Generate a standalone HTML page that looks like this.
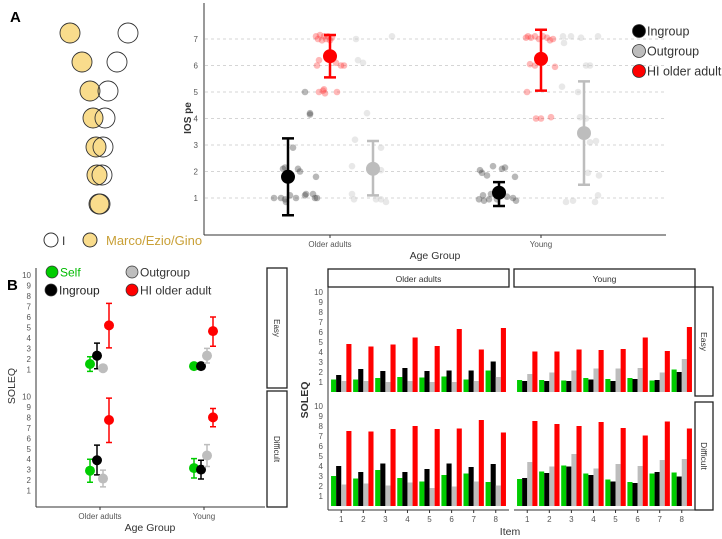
<!DOCTYPE html>
<html><head><meta charset="utf-8"><style>
html,body{margin:0;padding:0;background:#fff;}
svg{display:block;font-family:"Liberation Sans",sans-serif;}
</style></head><body>
<svg id="fig" width="722" height="539" viewBox="0 0 722 539" xmlns="http://www.w3.org/2000/svg">
<text x="10" y="22" font-size="15" font-weight="bold">A</text>
<text x="7" y="290" font-size="15" font-weight="bold">B</text>
<g id="venn"></g>
<g>
<circle cx="51" cy="240" r="7" fill="#fff" stroke="#333" stroke-width="1"/>
<text x="62" y="245" font-size="12" fill="#333">I</text>
<circle cx="90" cy="240" r="7" fill="#f9dc8c" stroke="#333" stroke-width="1"/>
<text x="106" y="245" font-size="13" fill="#c9a037">Marco/Ezio/Gino</text>
</g>
<g id="chartA"></g>
<g id="chartB1"></g>
<g id="chartB2"></g>
</svg>
<script>
// ---------- data ----------
const vennYellowX=[70,82,90,93,96,97,99];
const vennWhiteX=[128,117,108,105,103,102,100];
const vennY=[33,62,91,118,147,175,204];

const ageGroups=["Older adults","Young"];
const iosGroups=["Ingroup","HI older adult","Outgroup"];
const iosColors=["#000000","#ff0000","#bdbdbd"];
const iosMeanOlder=[1.8,6.35,2.1];
const iosLowOlder=[0.35,5.55,1.1];
const iosHighOlder=[3.25,7.15,3.15];
const iosMeanYoung=[1.2,6.25,3.45];
const iosLowYoung=[0.7,5.05,1.5];
const iosHighYoung=[1.6,7.35,5.4];
// jitter points: [jitter(px), value]
const ptsOlderIn=[[-14,1.0],[-7,1.0],[-3,0.95],[-2,0.85],[2,1.1],[8,1.0],[17,1.1],[18,1.15],[25,1.15],[27,1.0],[29,1.0],[-5,2.1],[-3,2.15],[10,2.1],[12,2.0],[28,1.8],[5,2.9],[17,5.0],[22,4.2],[22,4.15]];
const ptsOlderHI=[[-14,7.1],[-12,7.0],[-10,7.15],[-8,6.95],[-6,7.1],[-4,7.0],[-2,7.1],[0,6.95],[2,7.05],[-13,6.0],[-11,6.2],[6,6.1],[11,6.0],[14,6.0],[-11,5.0],[-7,5.05],[-5,4.95],[7,5.0],[-6,5.1]];
const ptsOlderOut=[[-17,7.0],[19,7.1],[-15,6.2],[-10,6.1],[-6,4.2],[-18,3.2],[8,2.9],[-21,2.2],[8,2.05],[-21,1.15],[-19,0.95],[3,0.95],[8,0.95],[13,0.85]];
const ptsYoungIn=[[-19,2.05],[-17,1.95],[-12,1.85],[-6,2.2],[3,2.1],[6,2.15],[16,1.8],[-20,0.95],[-16,1.1],[-15,0.9],[-10,0.95],[-8,1.15],[-2,0.95],[8,1.05],[14,1.0],[17,0.9]];
const ptsYoungHI=[[-15,7.05],[-13,7.1],[-10,7.05],[-6,7.1],[-2,7.0],[2,7.1],[6,7.05],[9,6.95],[12,7.0],[-11,6.05],[-6,6.0],[14,5.95],[-14,5.0],[-5,4.0],[0,4.0],[10,4.05]];
const ptsYoungOut=[[-21,7.1],[-13,7.1],[-3,7.05],[14,7.1],[-20,6.85],[2,6.0],[6,6.0],[-22,5.2],[-6,5.0],[-4,4.05],[2,4.0],[6,3.1],[12,3.15],[4,1.95],[15,1.85],[-18,0.85],[-11,0.9],[11,0.85],[14,1.1]];

const soleqGroups=["Self","Ingroup","Outgroup","HI older adult"];
const soleqColors=["#00cc00","#000000","#bdbdbd","#ff0000"];
const easyOlderMean=[1.5,2.3,1.1,5.2];
const easyOlderLow=[0.8,1.05,1.1,3.05];
const easyOlderHigh=[2.2,3.5,1.1,7.3];
const easyYoungMean=[1.3,1.3,2.3,4.65];
const easyYoungLow=[1.3,1.3,1.6,3.2];
const easyYoungHigh=[1.3,1.3,3.0,6.0];
const diffOlderMean=[2.9,3.9,2.15,7.75];
const diffOlderLow=[1.8,2.5,1.35,5.6];
const diffOlderHigh=[4.0,5.35,2.95,9.85];
const diffYoungMean=[3.15,3.0,4.35,8.0];
const diffYoungLow=[2.2,2.1,3.3,7.1];
const diffYoungHigh=[4.05,3.9,5.4,8.85];

const items=[1,2,3,4,5,6,7,8];
const soleqTicks=[1,2,3,4,5,6,7,8,9,10];
const iosTicks=[1,2,3,4,5,6,7];
// per-item values [self, ingroup, outgroup, HI]
const itemsEasyOlder=[[1.25,1.7,1.1,4.8],[1.25,2.3,1.1,4.55],[1.4,2.1,1.0,4.75],[1.5,2.4,1.1,5.45],[1.45,2.1,1.0,4.6],[1.55,2.15,1.0,6.3],[1.25,2.15,1.1,4.25],[2.15,3.05,1.5,6.4]];
const itemsEasyYoung=[[1.2,1.1,1.8,4.05],[1.2,1.1,1.95,4.05],[1.15,1.1,2.15,4.25],[1.4,1.25,2.35,4.2],[1.3,1.1,2.35,4.3],[1.4,1.3,2.4,5.45],[1.15,1.2,1.95,4.1],[2.25,2.0,3.3,6.5]];
const itemsDiffOlder=[[3.0,4.0,2.15,7.5],[2.75,3.4,2.25,7.45],[3.6,4.25,2.05,7.7],[2.8,3.4,2.35,8.0],[2.45,3.7,1.8,7.7],[3.1,4.25,1.95,7.75],[3.25,3.9,2.45,8.6],[2.4,4.2,2.05,7.35]];
const itemsDiffYoung=[[2.7,2.8,4.4,8.5],[3.45,3.3,3.95,8.2],[4.05,3.95,5.2,8.0],[3.25,3.1,3.75,8.4],[2.65,2.45,4.2,7.8],[2.4,2.3,4.0,7.05],[3.25,3.4,4.6,8.45],[3.35,2.95,4.7,7.75]];

// ---------- helpers ----------
const NS="http://www.w3.org/2000/svg";
function mk(parent,tag,attrs,txt){const e=document.createElementNS(NS,tag);for(const k in attrs)e.setAttribute(k,attrs[k]);if(txt!==undefined)e.textContent=txt;parent.appendChild(e);return e;}

// ---------- venn ----------
const venn=document.getElementById('venn');
for(let i=0;i<vennY.length;i++){
  const y1=mk(venn,'circle',{cx:vennYellowX[i],cy:vennY[i],r:10,fill:'#f9dc8c',stroke:'#333','stroke-width':0.9});
  
  
  const w1=mk(venn,'circle',{cx:vennWhiteX[i],cy:vennY[i],r:10,fill:'none',stroke:'#333','stroke-width':0.9});
  
  
}

// ---------- chart A ----------
(function(){
  const g=document.getElementById('chartA');
  const yA=v=>224.5-v*26.5;
  const xA=[330,541];
  const dx=[-42,0,43];
  iosTicks.forEach(t=>{
    const l=mk(g,'line',{x1:205,x2:666,y1:yA(t),y2:yA(t),stroke:'#c8c8c8','stroke-dasharray':'3,3','stroke-width':0.8});
    
    
    const tl=mk(g,'text',{x:198,y:yA(t)+3,'font-size':8,fill:'#555','text-anchor':'end'},t);
    
    
  });
  mk(g,'line',{x1:204,x2:204,y1:3,y2:235,stroke:'#333','stroke-width':1});
  mk(g,'line',{x1:204,x2:666,y1:235,y2:235,stroke:'#333','stroke-width':1});
  ageGroups.forEach((a,i)=>{
    mk(g,'line',{x1:xA[i],x2:xA[i],y1:235,y2:238,stroke:'#333'});
    const t=mk(g,'text',{x:xA[i],y:247,'font-size':8,fill:'#555','text-anchor':'middle'},a);
    
    
  });
  const xt=mk(g,'text',{x:435,y:259,'font-size':10.5,fill:'#333','text-anchor':'middle'},'Age Group');
  
  
  const yt=mk(g,'text',{x:0,y:0,'font-size':10,'font-weight':'bold',fill:'#333','text-anchor':'middle',transform:'translate(191,118) rotate(-90)'},'IOS pe');
  
  
  const ptsets=[[ptsOlderIn,ptsOlderHI,ptsOlderOut],[ptsYoungIn,ptsYoungHI,ptsYoungOut]];
  const means=[iosMeanOlder,iosMeanYoung],lows=[iosLowOlder,iosLowYoung],highs=[iosHighOlder,iosHighYoung];
  const ptCol=["#333","#ff3333","#cccccc"];
  for(let a=0;a<2;a++){
    for(let s=0;s<3;s++){
      const cx=xA[a]+dx[s];
      ptsets[a][s].forEach(p=>{
        const c=mk(g,'circle',{cx:cx+p[0],cy:yA(p[1]),r:3.3,fill:ptCol[s],'fill-opacity':s==2?0.45:0.35});
        
        
      });
    }
    for(let s=0;s<3;s++){
      const cx=xA[a]+dx[s];
      const col=iosColors[s];
      const eb=mk(g,'path',{d:`M${cx-6},${yA(highs[a][s])}H${cx+6}M${cx},${yA(highs[a][s])}V${yA(lows[a][s])}M${cx-6},${yA(lows[a][s])}H${cx+6}`,stroke:col,'stroke-width':2.5,fill:'none'});
      
      
      const m=mk(g,'circle',{cx:cx,cy:yA(means[a][s]),r:7,fill:col});
      
      
    }
  }
  const legY=[31,51,71],legLab=["Ingroup","Outgroup","HI older adult"],legCol=["#000","#bdbdbd","#ff0000"];
  legLab.forEach((l,i)=>{
    const c=mk(g,'circle',{cx:639,cy:legY[i],r:6.5,fill:legCol[i],stroke:'#333','stroke-width':0.8});
    
    
    const t=mk(g,'text',{x:647,y:legY[i]+4.5,'font-size':12.5,fill:'#333'},l);
    
    
  });
})();

// ---------- chart B1 ----------
(function(){
  const g=document.getElementById('chartB1');
  const panels=[{y0:379.7,top:268,bot:388,name:'Easy',m:[easyOlderMean,easyYoungMean],l:[easyOlderLow,easyYoungLow],h:[easyOlderHigh,easyYoungHigh]},
                {y0:501,top:391,bot:507,name:'Difficult',m:[diffOlderMean,diffYoungMean],l:[diffOlderLow,diffYoungLow],h:[diffOlderHigh,diffYoungHigh]}];
  const unit=10.45;
  const xB=[100,204],dx=[-10,-3,3,9];
  panels.forEach(p=>{
    const yB=v=>p.y0-v*unit;
    soleqTicks.forEach(t=>{
      const tl=mk(g,'text',{x:31,y:yB(t)+3,'font-size':8,fill:'#555','text-anchor':'end'},t);
      
      
    });
    mk(g,'rect',{x:267,y:p.top,width:20,height:p.bot-p.top,fill:'#fff',stroke:'#222','stroke-width':1.3});
    const st=mk(g,'text',{x:0,y:0,'font-size':8,fill:'#333','text-anchor':'middle',transform:`translate(274,${(p.top+p.bot)/2}) rotate(90)`},p.name);
    
    
    for(let a=0;a<2;a++){
      for(let s=0;s<4;s++){
        const cx=xB[a]+dx[s],col=soleqColors[s];
        const hi=p.h[a][s],lo=p.l[a][s];
        if(hi>lo){
          const eb=mk(g,'path',{d:`M${cx-3},${yB(hi)}H${cx+3}M${cx},${yB(hi)}V${yB(lo)}M${cx-3},${yB(lo)}H${cx+3}`,stroke:col,'stroke-width':1.5,fill:'none'});
          
          
        }
        const m=mk(g,'circle',{cx:cx,cy:yB(p.m[a][s]),r:5,fill:col});
        
        
      }
    }
  });
  mk(g,'line',{x1:36,x2:36,y1:268,y2:507,stroke:'#333','stroke-width':1});
  mk(g,'line',{x1:36,x2:265,y1:507,y2:507,stroke:'#333','stroke-width':1});
  ageGroups.forEach((a,i)=>{
    mk(g,'line',{x1:xB[i],x2:xB[i],y1:507,y2:510,stroke:'#333'});
    const t=mk(g,'text',{x:xB[i],y:519,'font-size':8,fill:'#555','text-anchor':'middle'},a);
    
    
  });
  const xt=mk(g,'text',{x:150,y:531,'font-size':10.5,fill:'#333','text-anchor':'middle'},'Age Group');
  
  
  const yt=mk(g,'text',{x:0,y:0,'font-size':10.5,fill:'#333','text-anchor':'middle',transform:'translate(15,386) rotate(-90)'},'SOLEQ');
  
  
  const lx=[52,51,132,132],ly=[272,290,272,290],lt=["Self","Ingroup","Outgroup","HI older adult"],lc=["#00cc00","#000","#bdbdbd","#ff0000"],ltc=["#00bb00","#222","#333","#333"];
  const ord=[0,1,2,3];
  ord.forEach(i=>{
    const c=mk(g,'circle',{cx:lx[i],cy:ly[i],r:6,fill:lc[i],stroke:'#333','stroke-width':0.7});
    
    
    const t=mk(g,'text',{x:lx[i]+8,y:ly[i]+4.5,'font-size':12,fill:ltc[i]},lt[i]);
    
    
  });
})();

// ---------- chart B2 ----------
(function(){
  const g=document.getElementById('chartB2');
  const panelX=[[328,509],[514,695]];
  const rows=[{y0:392,top:287,bot:396,name:'Easy',d:[itemsEasyOlder,itemsEasyYoung]},
              {y0:506,top:402,bot:510,name:'Difficult',d:[itemsDiffOlder,itemsDiffYoung]}];
  const unit=10.0;
  const bw=5.1;
  ageGroups.forEach((a,i)=>{
    mk(g,'rect',{x:panelX[i][0],y:269,width:panelX[i][1]-panelX[i][0],height:18,fill:'#fff',stroke:'#222','stroke-width':1.3});
    const t=mk(g,'text',{x:(panelX[i][0]+panelX[i][1])/2,y:282,'font-size':8.5,fill:'#333','text-anchor':'middle'},a);
    
    
  });
  rows.forEach(r=>{
    const yC=v=>r.y0-v*unit;
    soleqTicks.forEach(t=>{
      const tl=mk(g,'text',{x:323,y:yC(t)+3,'font-size':8,fill:'#555','text-anchor':'end'},t);
      
      
    });
    mk(g,'rect',{x:695,y:r.top,width:18,height:r.bot-r.top,fill:'#fff',stroke:'#222','stroke-width':1.3});
    const st=mk(g,'text',{x:0,y:0,'font-size':8.5,fill:'#333','text-anchor':'middle',transform:`translate(701,${(r.top+r.bot)/2}) rotate(90)`},r.name);
    
    
    for(let p=0;p<2;p++){
      const x0=panelX[p][0],step=(panelX[p][1]-x0)/8.2;
      items.forEach((it,k)=>{
        const cx=x0+step*(0.6+(it-1));
        for(let s=0;s<4;s++){
          const v=r.d[p][k][s];
          const b=mk(g,'rect',{x:cx-2*bw+s*bw,y:yC(v),width:bw,height:v*unit,fill:soleqColors[s]});
          
          
        }
      });
    }
  });
  mk(g,'line',{x1:328,x2:328,y1:287,y2:510,stroke:'#333','stroke-width':1});
  for(let p=0;p<2;p++){
    mk(g,'line',{x1:panelX[p][0],x2:panelX[p][1],y1:510,y2:510,stroke:'#333','stroke-width':1});
    const x0=panelX[p][0],step=(panelX[p][1]-x0)/8.2;
    items.forEach(it=>{
      const cx=x0+step*(0.6+(it-1));
      mk(g,'line',{x1:cx,x2:cx,y1:510,y2:513,stroke:'#333'});
      const t=mk(g,'text',{x:cx,y:522,'font-size':8,fill:'#555','text-anchor':'middle'},it);
      
      
    });
  }
  const xt=mk(g,'text',{x:510,y:535,'font-size':10.5,fill:'#333','text-anchor':'middle'},'Item');
  
  
  const yt=mk(g,'text',{x:0,y:0,'font-size':10.5,'font-weight':'bold',fill:'#333','text-anchor':'middle',transform:'translate(308,400) rotate(-90)'},'SOLEQ');
  
  
})();
</script>
</body></html>
